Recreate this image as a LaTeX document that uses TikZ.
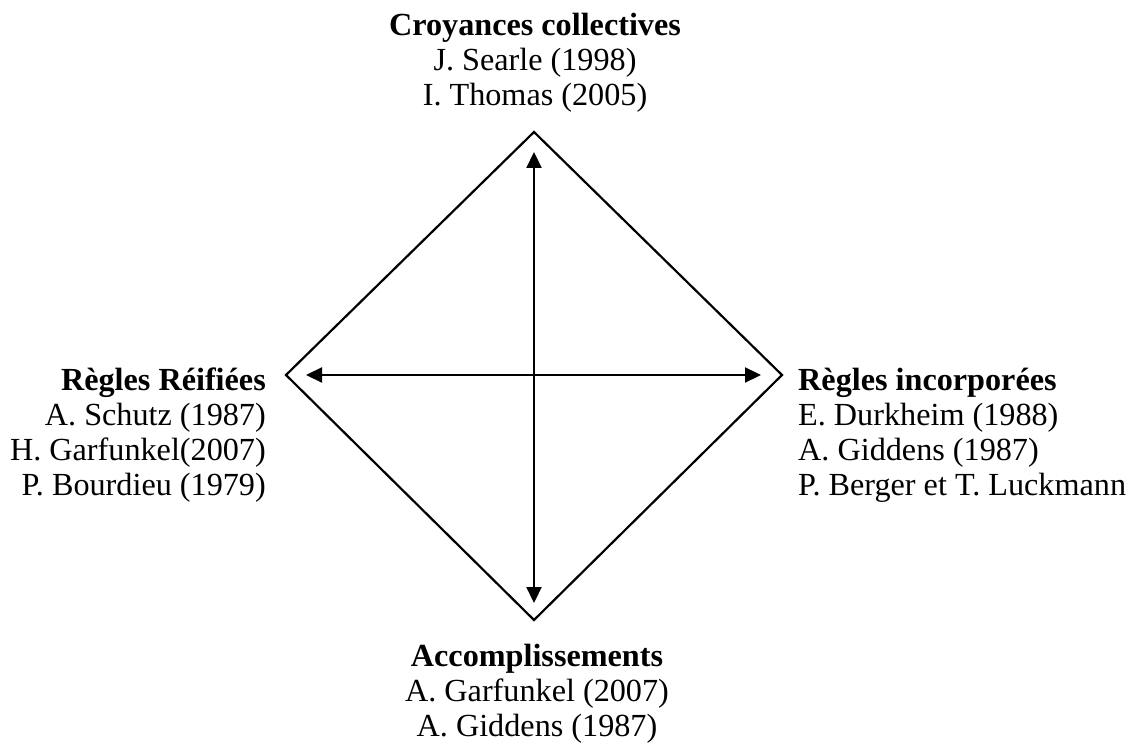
\documentclass[tikz,border=0pt]{standalone}
\usepackage{fontspec}
\setmainfont{Liberation Serif}
\usetikzlibrary{arrows.meta}
\begin{document}
\begin{tikzpicture}[x=1pt,y=1pt,
        pole/.style={inner sep=0pt, font=\fontsize{32.2}{35}\selectfont},
        axe/.style={line width=2.2pt, {Triangle[length=16pt,width=15pt]}-{Triangle[length=16pt,width=15pt]}}]
                \useasboundingbox (0,0) rectangle (1139,747);

                % losange
                \coordinate (haut) at (534,615);
                \coordinate (droite) at (782,372);
                \coordinate (bas) at (534,127);
                \coordinate (gauche) at (286,372);
                \draw [line width=2.2pt] (haut) -- (droite) -- (bas) -- (gauche) -- cycle;

                % axes
                \coordinate (axehaut) at (534,595);
                \coordinate (axebas) at (534,144);
                \coordinate (axegauche) at (306,372);
                \coordinate (axedroite) at (761,372);
                \draw [axe] (axehaut) -- (axebas);
                \draw [axe] (axegauche) -- (axedroite);

                % poles
                \node [pole, anchor=north, align=center] (croyances) at (535,734)
                        {\textbf{Croyances collectives}\\J. Searle (1998)\\I. Thomas (2005)};
                \node [pole, anchor=north east, align=right] (reifiees) at (266,379)
                        {\textbf{Règles Réifiées}\\A. Schutz (1987)\\H. Garfunkel(2007)\\P. Bourdieu (1979)};
                \node [pole, anchor=north west, align=left] (incorporees) at (798,379)
                        {\textbf{Règles incorporées}\\E. Durkheim (1988)\\A. Giddens (1987)\\P. Berger et T. Luckmann};
                \node [pole, anchor=north, align=center] (accomplissements) at (537,103)
                        {\textbf{Accomplissements}\\A. Garfunkel (2007)\\A. Giddens (1987)};
\end{tikzpicture}
\end{document}
